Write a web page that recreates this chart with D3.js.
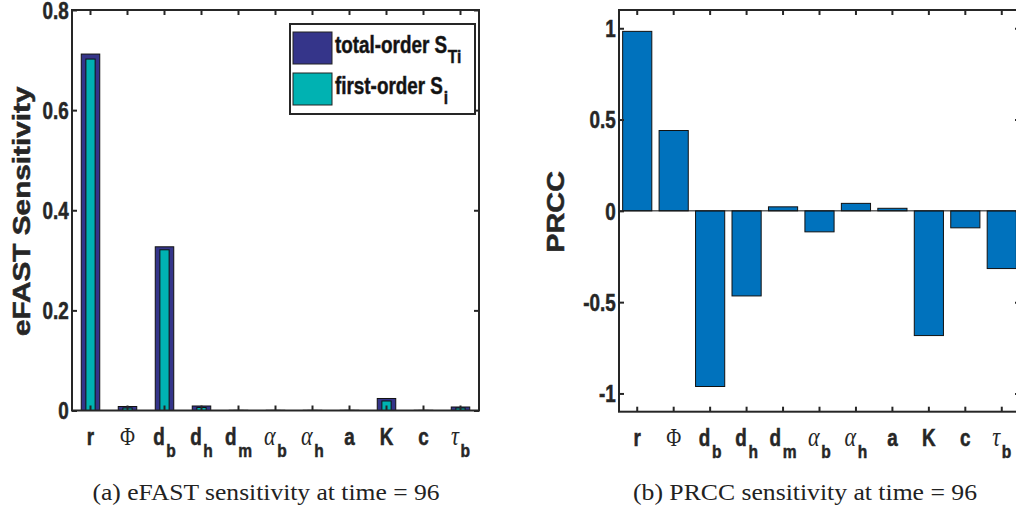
<!DOCTYPE html>
<html><head><meta charset="utf-8">
<script src="https://cdn.jsdelivr.net/npm/d3@7"></script>
<style>
body{margin:0;background:#fff;}
svg{display:block;}
</style></head>
<body>
<svg id="c" width="1016" height="512"></svg>
<script>
// ---- data ----
const categories = ["r","Phi","d_b","d_h","d_m","alpha_b","alpha_h","a","K","c","tau_b"];
const totalOrder = [0.712,0.008,0.327,0.009,0.0004,0.0004,0.0004,0.0004,0.024,0.0004,0.007];
const firstOrder = [0.702,0.005,0.321,0.006,0.0002,0.0002,0.0002,0.0002,0.019,0.0002,0.005];
const prcc = [0.983,0.44,-0.962,-0.466,0.022,-0.115,0.041,0.014,-0.683,-0.093,-0.316];
const leftTicks = [0,0.2,0.4,0.6,0.8];
const rightTicks = [-1,-0.5,0,0.5,1];
const leftTickLabels = ["0","0.2","0.4","0.6","0.8"];
const rightTickLabels = ["-1","-0.5","0","0.5","1"];
const seriesNames = ["total-order S","first-order S"];
const seriesSubs = ["Ti","i"];
const captions = ["(a) eFAST sensitivity at time = 96","(b) PRCC sensitivity at time = 96"];

// label pieces: [main, kind(0 sans,1 greek italic,2 serif upright), sub]
const labelParts = {
  "r":["r",0,""], "Phi":["\u03A6",2,""], "d_b":["d",0,"b"], "d_h":["d",0,"h"], "d_m":["d",0,"m"],
  "alpha_b":["\u03B1",1,"b"], "alpha_h":["\u03B1",1,"h"], "a":["a",0,""], "K":["K",0,""], "c":["c",0,""],
  "tau_b":["\u03C4",1,"b"]
};

const svg = d3.select("#c");
const AX = "#262626";
const SANS = "'Liberation Sans',Arial,Helvetica,sans-serif";
const SERIF = "'Liberation Serif','DejaVu Serif',serif";
const NX = 0.82; // horizontal condensing of bold sans text

function boldSans(sel, size){
  return sel.attr("font-family",SANS).attr("font-weight","bold").attr("font-size",size)
    .attr("stroke",AX).attr("stroke-width",0.5);
}

function panel(cfg){
  const g = svg.append("g");
  const x = d3.scaleBand().domain(categories).range([cfg.x0, cfg.x1]).paddingInner(0).paddingOuter(0);
  const y = d3.scaleLinear().domain(cfg.ydom).range([cfg.y1, cfg.y0]);
  cfg.drawBars(g, x, y);

  const tl = 5;
  const axB = d3.axisBottom(x).tickSize(-tl).tickFormat("");
  const axT = d3.axisTop(x).tickSize(-tl).tickFormat("");
  const axL = d3.axisLeft(y).tickValues(cfg.yticks).tickSize(-tl).tickFormat((d,i)=>cfg.ylabels[i]).tickPadding(4);
  const axR = d3.axisRight(y).tickValues(cfg.yticks).tickSize(-tl).tickFormat("");
  [[axB,`translate(0,${cfg.y1})`],[axT,`translate(0,${cfg.y0})`],[axL,`translate(${cfg.x0},0)`],[axR,`translate(${cfg.x1},0)`]].forEach(([a,t])=>{
    const ag = g.append("g").attr("transform",t).call(a);
    ag.select(".domain").remove();
    ag.selectAll(".tick line").attr("stroke",AX).attr("stroke-width",2);
    boldSans(ag.selectAll(".tick text"),23).attr("fill",AX).attr("dy","0.36em").attr("transform",`scale(${NX},1)`);
  });
  g.append("rect").attr("x",cfg.x0).attr("y",cfg.y0).attr("width",cfg.x1-cfg.x0).attr("height",cfg.y1-cfg.y0)
    .attr("fill","none").attr("stroke",AX).attr("stroke-width",2);

  // x category labels
  categories.forEach(c=>{
    const p = labelParts[c];
    const cx = x(c) + x.bandwidth()/2;
    const t = g.append("text").attr("transform",`translate(${cx},${cfg.y1+34}) scale(${NX},1)`)
      .attr("text-anchor","middle").attr("fill",AX);
    const m = t.append("tspan").text(p[0]);
    if(p[1]===0){ boldSans(m,23); }
    else if(p[1]===1){ m.attr("font-family",SERIF).attr("font-style","italic").attr("font-size",27); }
    else { m.attr("font-family",SERIF).attr("font-size",25); }
    if(p[2]){
      boldSans(t.append("tspan").text(p[2]),19).attr("dy",12).attr("dx",2);
    }
  });

  // y label
  boldSans(g.append("text").attr("transform",`translate(${cfg.ylabX},${(cfg.y0+cfg.y1)/2+1}) rotate(-90) scale(${cfg.ylabS},1)`)
    .attr("text-anchor","middle"),24).attr("fill",AX).text(cfg.ylabel);

  // caption
  svg.append("text").attr("x",cfg.capX).attr("y",500).attr("text-anchor","middle")
    .attr("font-family",SERIF).attr("font-size",24).attr("fill","#222")
    .attr("textLength",cfg.capW).attr("lengthAdjust","spacingAndGlyphs").text(cfg.caption);
  return {g,x,y};
}

// ---- left panel ----
panel({
  x0:72, x1:479, y0:10, y1:410.5, ydom:[0,0.8], yticks:leftTicks, ylabels:leftTickLabels,
  ylabel:"eFAST Sensitivity", ylabX:30, ylabS:1.24, caption:captions[0], capX:266, capW:347,
  drawBars:(g,x,y)=>{
    const bw = x.bandwidth();
    g.selectAll(".tot").data(categories).join("rect")
      .attr("x",c=>x(c)+bw*0.25).attr("width",bw*0.5)
      .attr("y",(c,i)=>y(totalOrder[i])).attr("height",(c,i)=>y(0)-y(totalOrder[i]))
      .attr("fill","#35358a").attr("stroke","#111").attr("stroke-width",1);
    g.selectAll(".fst").data(categories).join("rect")
      .attr("x",c=>x(c)+bw*0.375).attr("width",bw*0.25)
      .attr("y",(c,i)=>y(firstOrder[i])).attr("height",(c,i)=>y(0)-y(firstOrder[i]))
      .attr("fill","#00b2b2").attr("stroke","#111").attr("stroke-width",1);
  }
});

// legend
const lg = svg.append("g");
lg.append("rect").attr("x",290).attr("y",24).attr("width",185).attr("height",90)
  .attr("fill","#fff").attr("stroke",AX).attr("stroke-width",2);
const legColors = ["#35358a","#00b2b2"];
seriesNames.forEach((s,i)=>{
  const yy = 32 + i*41;
  lg.append("rect").attr("x",293).attr("y",yy).attr("width",39).attr("height",32)
    .attr("fill",legColors[i]).attr("stroke","#222").attr("stroke-width",1);
  const t = boldSans(lg.append("text").attr("transform",`translate(335,${yy+21}) scale(${NX},1)`),23).attr("fill","#111");
  t.append("tspan").text(s);
  t.append("tspan").text(seriesSubs[i]).attr("font-size",19).attr("dy",10).attr("dx",1);
});

// ---- right panel ----
panel({
  x0:619, x1:1020, y0:10, y1:411.7, ydom:[-1.1,1.1], yticks:rightTicks, ylabels:rightTickLabels,
  ylabel:"PRCC", ylabX:564, ylabS:1.2, caption:captions[1], capX:805, capW:344,
  drawBars:(g,x,y)=>{
    const bw = x.bandwidth();
    g.selectAll(".pr").data(categories).join("rect")
      .attr("x",c=>x(c)+bw*0.1).attr("width",bw*0.8)
      .attr("y",(c,i)=>y(Math.max(0,prcc[i]))).attr("height",(c,i)=>Math.abs(y(prcc[i])-y(0)))
      .attr("fill","#0072bd").attr("stroke","#111").attr("stroke-width",1);
    g.append("line").attr("x1",x.range()[0]).attr("x2",x.range()[1]).attr("y1",y(0)).attr("y2",y(0))
      .attr("stroke","#111").attr("stroke-width",1);
  }
});
</script>
</body></html>
